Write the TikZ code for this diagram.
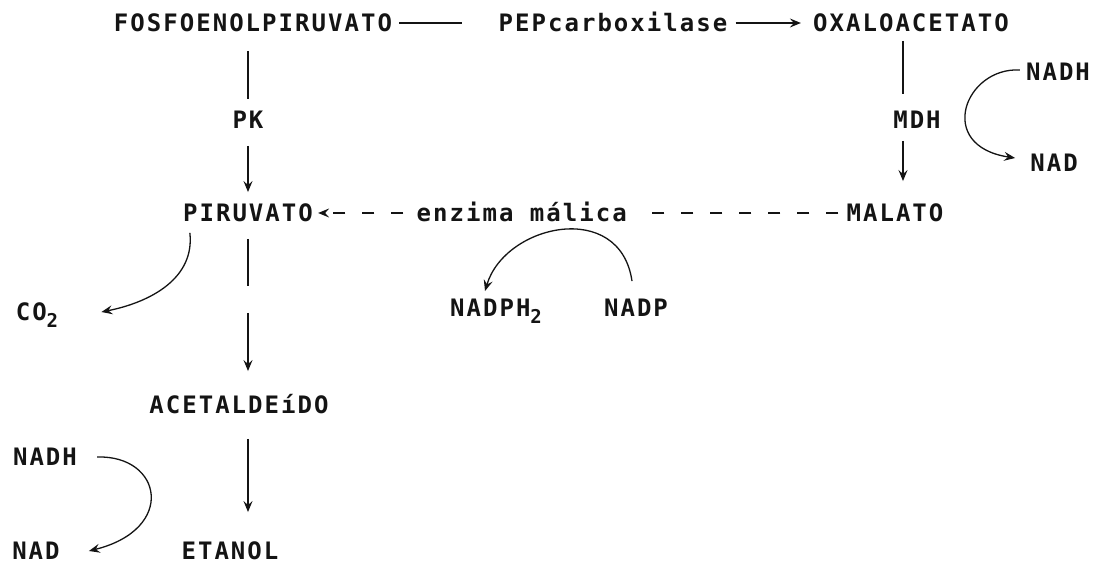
\documentclass[tikz,border=0pt]{standalone}
\usepackage{fontspec}
\usetikzlibrary{arrows.meta, calc}
\newfontfamily\dotfont[LetterSpace=8.5]{DejaVu Sans Mono}
\definecolor{inkBlack}{HTML}{141414}
\newcommand{\subtwo}{\lower7pt\hbox{\fontsize{19}{19}\selectfont 2}}

\begin{document}
\begin{tikzpicture}[x=1pt, y=1pt,
    metabolite/.style={inner sep=3pt, text=inkBlack, font=\dotfont\bfseries\fontsize{24}{28}\selectfont, text height=17.5pt, text depth=0pt},
    enzymeLabel/.style={metabolite, fill=white, inner xsep=12pt},
    plainLink/.style={draw=inkBlack, line width=1.3pt},
    reactArrow/.style={plainLink, -{Stealth[length=11pt, width=9pt, inset=4pt]}},
]
\useasboundingbox (0,0) rectangle (1095,565);
% top row
\node[metabolite] (fosfo)    at (253, 542) {FOSFOENOLPIRUVATO};
\node[metabolite] (pepc)     at (613, 542) {PEPcarboxilase};
\node[metabolite] (oxalo)    at (911, 542) {OXALOACETATO};
% enzymes on the verticals
\node[metabolite] (pk)       at (248, 445) {PK};
\node[metabolite] (mdh)      at (917, 445) {MDH};
\node[metabolite] (nadhR)    at (1058, 493) {NADH};
\node[metabolite] (nadR)     at (1054, 402) {NAD};
% middle row
\node[metabolite] (piruvato) at (248, 352) {PIRUVATO};
\node[metabolite] (malato)   at (895, 352) {MALATO};
\node[metabolite] (co2)      at (37, 253) {CO\subtwo};
\node[metabolite] (nadph)    at (496, 257) {NADPH\subtwo};
\node[metabolite] (nadp)     at (636, 257) {NADP};
% lower part
\node[metabolite] (acetal)   at (239, 160) {ACETALDEíDO};
\node[metabolite] (nadhL)    at (45, 108) {NADH};
\node[metabolite] (nadL)     at (36, 14) {NAD};
\node[metabolite] (etanol)   at (230, 14) {ETANOL};
\coordinate (mdhLine) at (903, 0);

% carboxylation
\draw[plainLink, shorten <=4pt, shorten >=33pt] (fosfo.east) -- (pepc.west);
\draw[reactArrow, shorten <=5pt, shorten >=9pt] (pepc.east) -- (oxalo.west);
% PEP -> piruvato
\draw[plainLink, shorten <=16pt, shorten >=9pt] (fosfo.south -| pk) -- (pk.north);
\draw[reactArrow, shorten <=14pt, shorten >=9pt] (pk.south) -- (piruvato.north);
% oxaloacetato -> malato
\draw[plainLink, shorten <=6pt, shorten >=14pt] (oxalo.south -| mdhLine) -- (mdh.north -| mdhLine);
\draw[reactArrow, shorten <=9pt, shorten >=20pt] (mdh.south -| mdhLine) -- (malato.north -| mdhLine);
\draw[reactArrow] ([shift={(-3pt,2pt)}]nadhR.west) .. controls +(-55,3) and +(-80,12) .. ([shift={(-12pt,5pt)}]nadR.west);
% malic enzyme
\draw[reactArrow, dash pattern=on 12pt off 17pt, dash phase=24pt, shorten >=2pt] (malato.west) -- node[enzymeLabel, pos=0.61] (malic) {enzima málica} (piruvato.east);
\draw[reactArrow] ([shift={(-4pt,15pt)}]nadp.north) .. controls +(-12,82) and +(20,67) .. ([shift={(-11pt,5pt)}]nadph.north);
% fermentation
\draw[reactArrow] ([shift={(10pt,-8pt)}]piruvato.south west) .. controls +(5,-45) and +(50,10) .. ([xshift=40pt]co2.east);
\draw[reactArrow, dash pattern=on 47pt off 27pt on 200pt off 1pt, shorten <=14pt, shorten >=22pt] (piruvato.south) -- (acetal.north -| piruvato);
\draw[reactArrow, shorten <=22pt, shorten >=27pt] (acetal.south -| piruvato) -- (etanol.north -| piruvato);
\draw[reactArrow] ([xshift=17pt]nadhL.east) .. controls +(65,2) and +(88,22) .. ([xshift=26pt]nadL.east);
\end{tikzpicture}
\end{document}
